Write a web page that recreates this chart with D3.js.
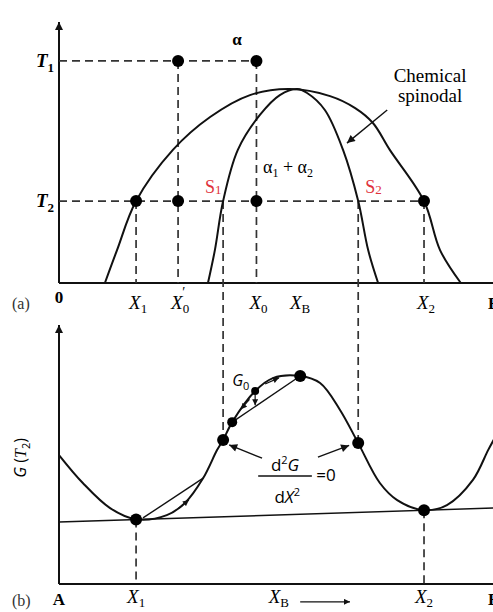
<!DOCTYPE html>
<html>
<head>
<meta charset="utf-8">
<script src="https://cdn.jsdelivr.net/npm/d3@7"></script>
<style>
  body { margin: 0; background: #fff; }
  svg { display: block; }
</style>
</head>
<body>
<script>
// key compositions (fraction B)
const compNames = ["X1", "X0p", "S1", "X0", "XB", "S2", "X2"];
const compVals = [0.178, 0.275, 0.379, 0.456, 0.55, 0.691, 0.843];
// key temperatures (fraction of axis height)
const tempNames = ["T1", "T2"];
const tempVals = [0.851, 0.314];

// miscibility gap (coherent solvus)
const gapX = [0.106, 0.134, 0.178, 0.263, 0.349, 0.441, 0.533, 0.626, 0.684, 0.725, 0.764, 0.843, 0.880, 0.928];
const gapT = [0, 0.126, 0.314, 0.510, 0.636, 0.720, 0.743, 0.716, 0.670, 0.613, 0.510, 0.314, 0.126, 0];

// chemical spinodal
const spinX = [0.344, 0.360, 0.379, 0.413, 0.464, 0.510, 0.550, 0.573, 0.614, 0.656, 0.691, 0.714, 0.737];
const spinT = [0, 0.126, 0.314, 0.510, 0.644, 0.720, 0.743, 0.728, 0.663, 0.510, 0.314, 0.126, 0];

// free energy curve at T2
const gX = [0, 0.055, 0.118, 0.178, 0.249, 0.291, 0.333, 0.365, 0.379, 0.400, 0.453, 0.494, 0.557, 0.603, 0.649, 0.691, 0.741, 0.781, 0.843, 0.896, 0.956, 0.991, 1.005];
const gG = [0.498, 0.390, 0.293, 0.250, 0.266, 0.313, 0.409, 0.517, 0.556, 0.625, 0.745, 0.795, 0.803, 0.776, 0.672, 0.544, 0.390, 0.324, 0.285, 0.305, 0.402, 0.517, 0.560];

// common tangent
const tangentX = [0, 1.01];
const tangentG = [0.239, 0.2935];

// marked points on G curve
const gDotX = [0.178, 0.379, 0.400, 0.453, 0.557, 0.691, 0.843];
const gDotG = [0.2486, 0.556, 0.625, 0.745, 0.803, 0.544, 0.285];
const gDotR = [6, 6, 5, 4, 6, 6, 6];

const W = 493, H = 612;

const svg = d3.select("body").append("svg")
  .attr("width", W)
  .attr("height", H)
  .attr("viewBox", [0, 0, W, H]);

const x = d3.scaleLinear().domain([0, 1]).range([59, 492]);
const yT = d3.scaleLinear().domain([0, 1]).range([283, 22]);
const yG = d3.scaleLinear().domain([0, 1]).range([584, 325]);

const comp = k => compVals[compNames.indexOf(k)];
const temp = k => tempVals[tempNames.indexOf(k)];

const serif = "'Liberation Serif', 'DejaVu Serif', serif";
const sans = "'Open Sans', 'DejaVu Sans', sans-serif";

const defs = svg.append("defs");
defs.append("marker")
  .attr("id", "head")
  .attr("viewBox", "0 0 10 10")
  .attr("refX", 10).attr("refY", 5)
  .attr("markerUnits", "userSpaceOnUse")
  .attr("markerWidth", 11).attr("markerHeight", 8)
  .attr("orient", "auto")
  .append("path").attr("d", "M0,0L10,5L0,10z").attr("fill", "#111");
defs.append("marker")
  .attr("id", "small")
  .attr("viewBox", "0 0 10 10")
  .attr("refX", 10).attr("refY", 5)
  .attr("markerUnits", "userSpaceOnUse")
  .attr("markerWidth", 8).attr("markerHeight", 6)
  .attr("orient", "auto")
  .append("path").attr("d", "M0,0L10,5L0,10z").attr("fill", "#111");

const line = d3.line();
const smooth = d3.line().curve(d3.curveCatmullRom.alpha(0.5));

function dashed(x1, y1, x2, y2) {
  svg.append("line")
    .attr("x1", x1).attr("y1", y1).attr("x2", x2).attr("y2", y2)
    .attr("stroke", "#333").attr("stroke-width", 1.7)
    .attr("stroke-dasharray", "8,5");
}

function arrow(pts, sc, marker = "head", w = 1.4) {
  svg.append("path")
    .attr("d", line(pts.map(p => [x(p[0]), sc(p[1])])))
    .attr("fill", "none").attr("stroke", "#111").attr("stroke-width", w)
    .attr("marker-end", `url(#${marker})`);
}

// ---------- (a) phase diagram ----------
// axes
svg.append("line")
  .attr("x1", x(0)).attr("y1", yT(0)).attr("x2", x(0)).attr("y2", yT(1))
  .attr("stroke", "#111").attr("stroke-width", 2).attr("marker-end", "url(#head)");
svg.append("line")
  .attr("x1", x(0)).attr("y1", yT(0)).attr("x2", x(1.01)).attr("y2", yT(0))
  .attr("stroke", "#111").attr("stroke-width", 2);

// dashed guides
dashed(x(0), yT(temp("T1")), x(comp("X0")), yT(temp("T1")));
dashed(x(0), yT(temp("T2")), x(comp("X2")), yT(temp("T2")));
dashed(x(comp("X1")), yT(temp("T2")), x(comp("X1")), yT(0));
dashed(x(comp("X0p")), yT(temp("T1")), x(comp("X0p")), yT(0));
dashed(x(comp("X0")), yT(temp("T1")), x(comp("X0")), yT(0));
dashed(x(comp("X2")), yT(temp("T2")), x(comp("X2")), yT(0));
dashed(x(comp("S1")), yT(temp("T2")), x(comp("S1")), yG(0.556));
dashed(x(comp("S2")), yT(temp("T2")), x(comp("S2")), yG(0.544));

// curves
svg.append("path")
  .attr("d", smooth(gapX.map((c, i) => [x(c), yT(gapT[i])])))
  .attr("fill", "none").attr("stroke", "#111").attr("stroke-width", 2);
svg.append("path")
  .attr("d", smooth(spinX.map((c, i) => [x(c), yT(spinT[i])])))
  .attr("fill", "none").attr("stroke", "#111").attr("stroke-width", 2);

// dots
const topDots = [["X0p", "T1"], ["X0", "T1"], ["X1", "T2"], ["X0p", "T2"], ["X0", "T2"], ["X2", "T2"]];
svg.append("g").selectAll("circle")
  .data(topDots)
  .join("circle")
    .attr("cx", d => x(comp(d[0])))
    .attr("cy", d => yT(temp(d[1])))
    .attr("r", 6)
    .attr("fill", "#000");

// temperature labels
svg.append("g").selectAll("text")
  .data(tempNames)
  .join("text")
    .attr("x", 54)
    .attr("y", d => yT(temp(d)) + 6)
    .attr("text-anchor", "end")
    .attr("font-family", serif).attr("font-style", "italic").attr("font-weight", "bold")
    .attr("font-size", 19)
    .text(d => d[0])
    .append("tspan").attr("dy", 5).attr("font-size", 13).attr("font-style", "normal").text(d => d[1]);

// x labels
function xLabel(cx, y, sub, anchorShift = 0, prime = false) {
  const t = svg.append("text")
    .attr("x", cx + anchorShift).attr("y", y)
    .attr("text-anchor", "middle")
    .attr("font-family", serif).attr("font-size", 19);
  t.append("tspan").attr("font-style", "italic").text("X");
  t.append("tspan").attr("dy", 4).attr("font-size", 13).text(sub);
  if (prime) t.append("tspan").attr("dx", -7).attr("dy", -16).attr("font-size", 14).text("′");
  return t;
}
xLabel(x(comp("X1")), 309, "1", 2);
xLabel(x(comp("X0p")), 309, "0", 2, true);
xLabel(x(comp("X0")), 309, "0", 2);
xLabel(x(comp("XB")), 309, "B", 3);
xLabel(x(comp("X2")), 309, "2", 2);

svg.append("text").attr("x", x(0)).attr("y", 303).attr("text-anchor", "middle")
  .attr("font-family", serif).attr("font-weight", "bold").attr("font-size", 17).text("0");
svg.append("text").attr("x", 488).attr("y", 309)
  .attr("font-family", serif).attr("font-weight", "bold").attr("font-size", 17).text("B");
svg.append("text").attr("x", 12).attr("y", 309)
  .attr("font-family", serif).attr("font-size", 16).attr("fill", "#333").text("(a)");

// annotations of panel (a)
svg.append("text").attr("x", x(0.411)).attr("y", yT(0.912)).attr("text-anchor", "middle")
  .attr("font-family", serif).attr("font-weight", "bold").attr("font-size", 17).text("α");

svg.append("text").attr("x", x(0.857)).attr("y", yT(0.77)).attr("text-anchor", "middle")
  .attr("font-family", serif).attr("font-size", 19).text("Chemical");
svg.append("text").attr("x", x(0.857)).attr("y", yT(0.693)).attr("text-anchor", "middle")
  .attr("font-family", serif).attr("font-size", 19).text("spinodal");
arrow([[0.758, 0.663], [0.665, 0.536]], yT);

const a12 = svg.append("text").attr("x", x(0.529)).attr("y", yT(0.421)).attr("text-anchor", "middle")
  .attr("font-family", serif).attr("font-size", 18);
a12.append("tspan").text("α");
a12.append("tspan").attr("dy", 4).attr("font-size", 12).text("1");
a12.append("tspan").attr("dy", -4).text(" + α");
a12.append("tspan").attr("dy", 4).attr("font-size", 12).text("2");

[["S1", "1"], ["S2", "2"]].forEach(([k, s]) => {
  const t = svg.append("text")
    .attr("x", k === "S1" ? x(0.337) : x(0.707)).attr("y", yT(0.345))
    .attr("font-family", serif).attr("font-size", 18).attr("fill", "#e0323c");
  t.append("tspan").text("S");
  t.append("tspan").attr("font-size", 13).attr("dy", 1).text(s);
});

// ---------- (b) free energy ----------
svg.append("line")
  .attr("x1", x(0)).attr("y1", yG(0)).attr("x2", x(0)).attr("y2", yG(1))
  .attr("stroke", "#111").attr("stroke-width", 2).attr("marker-end", "url(#head)");
svg.append("line")
  .attr("x1", x(0)).attr("y1", yG(0)).attr("x2", x(1.01)).attr("y2", yG(0))
  .attr("stroke", "#111").attr("stroke-width", 2);

// common tangent
svg.append("path")
  .attr("d", line(tangentX.map((c, i) => [x(c), yG(tangentG[i])])))
  .attr("fill", "none").attr("stroke", "#111").attr("stroke-width", 1.5);

// G curve
svg.append("path")
  .attr("d", smooth(gX.map((c, i) => [x(c), yG(gG[i])])))
  .attr("fill", "none").attr("stroke", "#111").attr("stroke-width", 2);

// chords
svg.append("path")
  .attr("d", line([[0.400, 0.625], [0.557, 0.803]].map(p => [x(p[0]), yG(p[1])])))
  .attr("stroke", "#111").attr("stroke-width", 1.4);
svg.append("path")
  .attr("d", line([[0.194, 0.255], [0.333, 0.409]].map(p => [x(p[0]), yG(p[1])])))
  .attr("stroke", "#111").attr("stroke-width", 1.4);

// dashed drop lines
dashed(x(comp("X1")), yG(0.2486), x(comp("X1")), yG(0));
dashed(x(comp("X2")), yG(0.285), x(comp("X2")), yG(0));

// dots
svg.append("g").selectAll("circle")
  .data(gDotX)
  .join("circle")
    .attr("cx", d => x(d))
    .attr("cy", (d, i) => yG(gDotG[i]))
    .attr("r", (d, i) => gDotR[i])
    .attr("fill", "#000");

// small arrows along the curve
arrow([[0.476, 0.772], [0.508, 0.796]], yG, "small", 1.2);
arrow([[0.440, 0.713], [0.420, 0.675]], yG, "small", 1.2);
arrow([[0.453, 0.735], [0.453, 0.690]], yG, "small", 1.2);
arrow([[0.276, 0.293], [0.300, 0.324]], yG, "small", 1.2);

// d2G/dX2 = 0
arrow([[0.469, 0.486], [0.393, 0.537]], yG);
arrow([[0.598, 0.490], [0.670, 0.535]], yG);

const num = svg.append("text").attr("x", x(0.522)).attr("y", yG(0.436)).attr("text-anchor", "middle")
  .attr("font-family", sans).attr("font-size", 17);
num.append("tspan").text("d");
num.append("tspan").attr("dy", -7).attr("font-size", 11).text("2");
num.append("tspan").attr("dy", 7).attr("font-style", "italic").text("G");
svg.append("line")
  .attr("x1", x(0.460)).attr("x2", x(0.584)).attr("y1", yG(0.417)).attr("y2", yG(0.417))
  .attr("stroke", "#111").attr("stroke-width", 1.4);
const den = svg.append("text").attr("x", x(0.527)).attr("y", yG(0.313)).attr("text-anchor", "middle")
  .attr("font-family", sans).attr("font-size", 17);
den.append("tspan").text("d");
den.append("tspan").attr("font-style", "italic").text("X");
den.append("tspan").attr("dy", -7).attr("font-size", 11).text("2");
svg.append("text").attr("x", x(0.594)).attr("y", yG(0.398))
  .attr("font-family", sans).attr("font-size", 17).text("=0");

// G0 label
const g0 = svg.append("text").attr("x", x(0.400)).attr("y", yG(0.764))
  .attr("font-family", sans).attr("font-size", 16);
g0.append("tspan").attr("font-style", "italic").text("G");
g0.append("tspan").attr("dy", 4).attr("font-size", 11).text("0");

// y label
const gl = svg.append("text")
  .attr("transform", `translate(26, ${yG(0.487)}) rotate(-90)`)
  .attr("text-anchor", "middle")
  .attr("font-family", sans).attr("font-size", 16);
gl.append("tspan").attr("font-style", "italic").text("G");
gl.append("tspan").text(" (");
gl.append("tspan").attr("font-style", "italic").attr("font-family", serif).text("T");
gl.append("tspan").attr("dy", 4).attr("font-size", 11).text("2");
gl.append("tspan").attr("dy", -4).text(")");

// x labels of panel (b)
xLabel(x(comp("X1")), 603, "1", 0);
xLabel(x(comp("X2")), 603, "2", 0);
xLabel(x(0.503), 603, "B", 2);
arrow([[0.557, -0.069], [0.672, -0.069]], yG, "small", 1.3);
svg.append("text").attr("x", x(0)).attr("y", 605).attr("text-anchor", "middle")
  .attr("font-family", serif).attr("font-weight", "bold").attr("font-size", 17).text("A");
svg.append("text").attr("x", 488).attr("y", 605)
  .attr("font-family", serif).attr("font-weight", "bold").attr("font-size", 17).text("B");
svg.append("text").attr("x", 12).attr("y", 606)
  .attr("font-family", serif).attr("font-size", 16).attr("fill", "#333").text("(b)");
</script>
</body>
</html>
